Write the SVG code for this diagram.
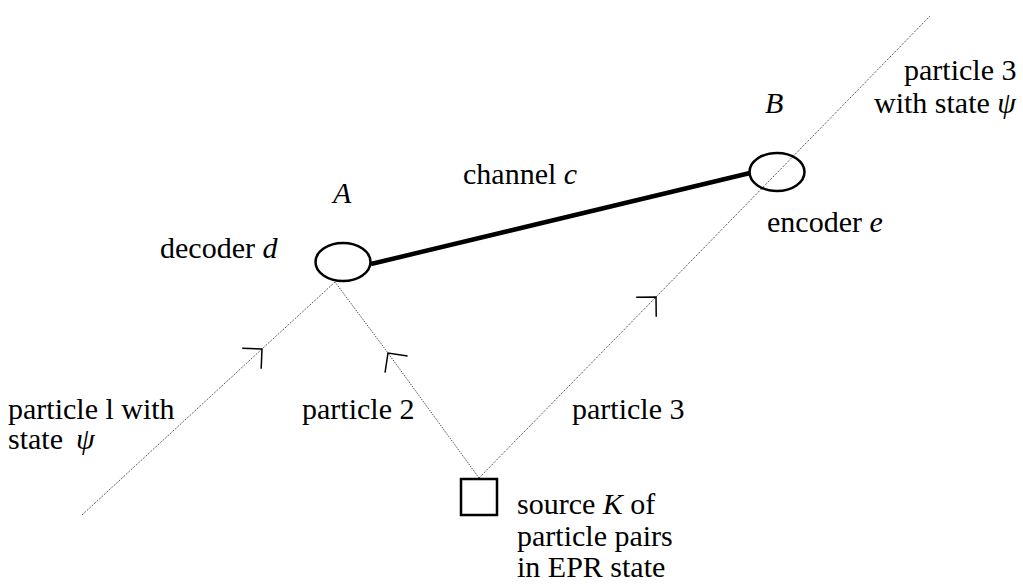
<svg xmlns="http://www.w3.org/2000/svg" width="1023" height="584" viewBox="0 0 1023 584">
<style>
text{font-family:"Liberation Serif","Times New Roman",serif;font-size:30px;fill:#000}
.i{font-style:italic}
.dot{fill:none;stroke:#222;stroke-width:1;stroke-dasharray:1 1.3}
.node{fill:none;stroke:#000;stroke-width:2.5}
</style>
<defs>
<marker id="ah" markerUnits="userSpaceOnUse" markerWidth="40" markerHeight="40" refX="20" refY="20" orient="auto" viewBox="0 0 40 40" overflow="visible">
<path d="M6,6 L20,20 L6,34" fill="none" stroke="#000" stroke-width="1.5"/>
</marker>
</defs>
<rect width="1023" height="584" fill="#fff"/>
<g id="connectors">
<path class="dot" d="M82,515 L262,349 L335,282" marker-mid="url(#ah)"/>
<path class="dot" d="M479,478 L388,353 L335,282" marker-mid="url(#ah)"/>
<path class="dot" d="M479,478 L656,297 L930,16" marker-mid="url(#ah)"/>
<line x1="371" y1="264" x2="750" y2="173" stroke="#000" stroke-width="4.5"/>
</g>
<g id="nodeA">
<ellipse class="node" cx="343" cy="262" rx="27.5" ry="19"/>
<text x="333" y="203" class="i">A</text>
<text x="160" y="258">decoder <tspan class="i">d</tspan></text>
</g>
<g id="nodeB">
<ellipse class="node" cx="777" cy="172" rx="27.5" ry="19"/>
<text x="765" y="113" class="i">B</text>
<text x="767" y="232">encoder <tspan class="i">e</tspan></text>
</g>
<g id="sourceK">
<rect class="node" x="461" y="479" width="36" height="36"/>
<text x="517" y="514">source <tspan class="i">K</tspan> of</text>
<text x="517" y="546">particle pairs</text>
<text x="517" y="577">in EPR state</text>
</g>
<g id="labels">
<text x="463" y="184">channel <tspan class="i">c</tspan></text>
<text x="904" y="80">particle 3</text>
<text x="874" y="113">with state <tspan class="i">ψ</tspan></text>
<text x="8" y="419">particle l with</text>
<text x="8" y="449">state<tspan x="76" class="i">ψ</tspan></text>
<text x="302" y="419">particle 2</text>
<text x="572" y="419">particle 3</text>
</g>
</svg>
